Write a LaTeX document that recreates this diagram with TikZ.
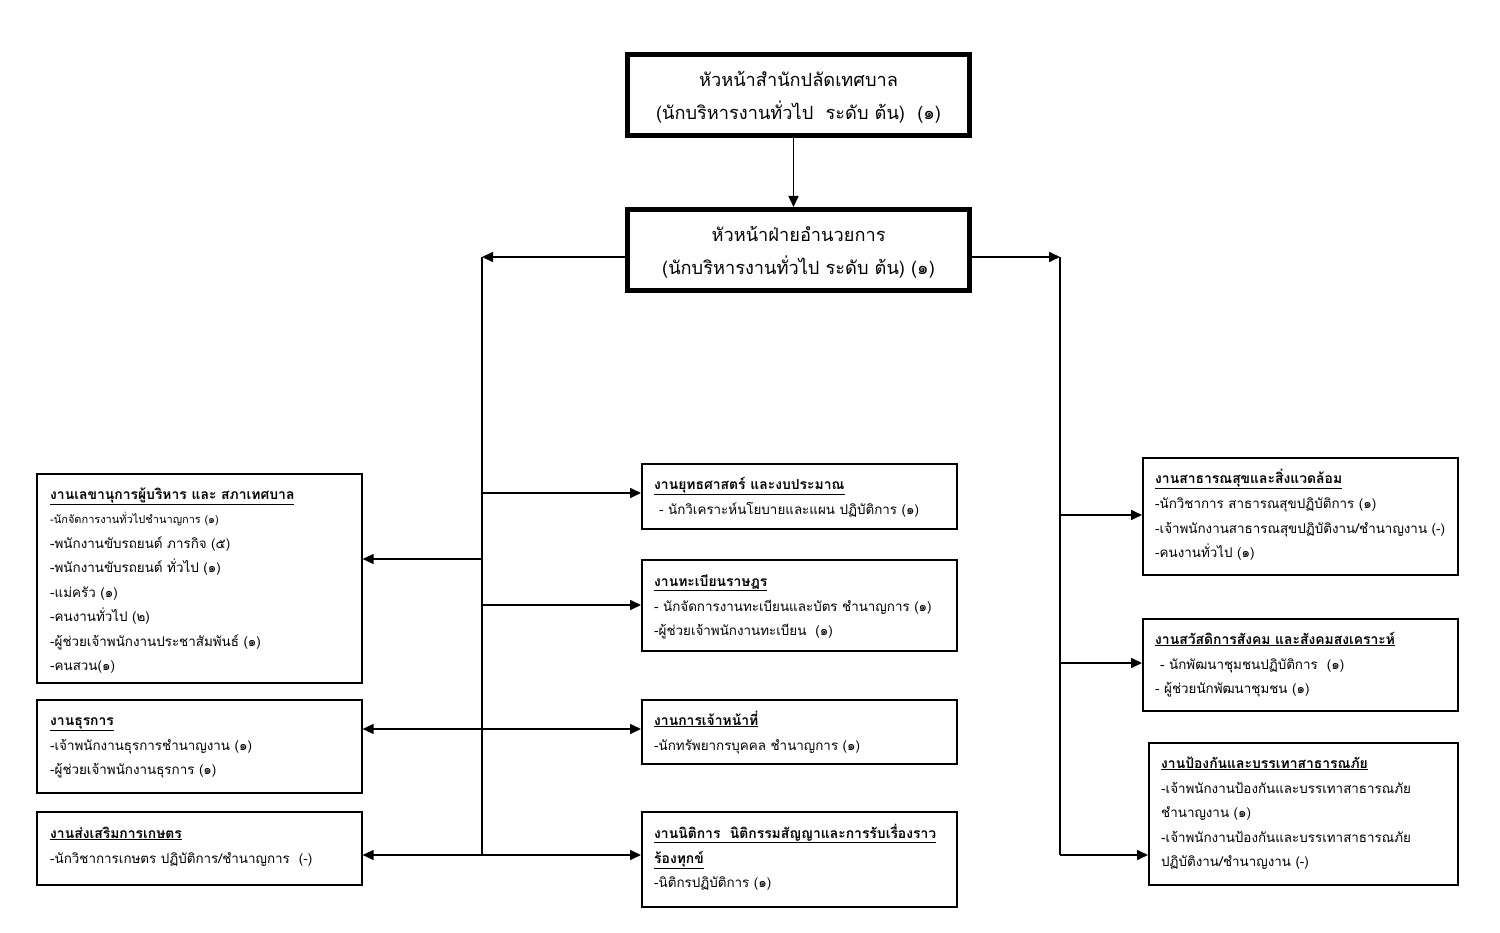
\documentclass[tikz,border=0pt]{standalone}
\usepackage{fontspec}
\newfontfamily\thai[Script=Thai]{Loma}
\usetikzlibrary{arrows.meta}
\begin{document}
\begin{tikzpicture}[x=1pt,y=-1pt,
  box/.style={draw, line width=1.6pt, rectangle, inner sep=0pt, anchor=north west},
  headbox/.style={draw, line width=5pt, rectangle, inner sep=0pt, minimum width=342pt, minimum height=81pt},
  txt/.style={font=\thai\fontsize{13.4}{16}\selectfont, inner sep=0pt, anchor=base west},
  small/.style={font=\thai\fontsize{11}{13}\selectfont, inner sep=0pt, anchor=base west},
  hd/.style={font=\thai\bfseries\fontsize{13.9}{16}\selectfont, inner sep=0pt, anchor=base west},
  big/.style={font=\thai\fontsize{18.2}{22}\selectfont, inner sep=0pt, anchor=base},
  conn/.style={line width=1.6pt},
  arr/.style={line width=1.6pt, -{Triangle[length=11pt,width=10pt]}}]
\useasboundingbox[fill=white] (0,0) rectangle (1500,933);

% head boxes
\node[headbox] (hb1) at (798.5,95) {};
\node[big] (hb1a) at (798.5,87) {หัวหน้าสำนักปลัดเทศบาล};
\node[big] (hb1b) at (798.5,120) {(นักบริหารงานทั่วไป\ \ ระดับ ต้น)\ \ (๑)};
\node[headbox] (hb2) at (798.5,250) {};
\node[big] (hb2a) at (798.5,242) {หัวหน้าฝ่ายอำนวยการ};
\node[big] (hb2b) at (798.5,275) {(นักบริหารงานทั่วไป ระดับ ต้น) (๑)};

% left boxes
\node[box, minimum width=325pt, minimum height=209pt] (lb1) at (36,473) {};
\node[hd] (lb1h) at (50,499) {\underline{งานเลขานุการผู้บริหาร และ สภาเทศบาล}};
\node[small] (lb1a) at (50,523) {-นักจัดการงานทั่วไปชำนาญการ (๑)};
\node[txt] (lb1b) at (50,548) {-พนักงานขับรถยนต์ ภารกิจ (๕)};
\node[txt] (lb1c) at (50,572) {-พนักงานขับรถยนต์ ทั่วไป (๑)};
\node[txt] (lb1d) at (50,597) {-แม่ครัว (๑)};
\node[txt] (lb1e) at (50,621) {-คนงานทั่วไป (๒)};
\node[txt] (lb1f) at (50,646) {-ผู้ช่วยเจ้าพนักงานประชาสัมพันธ์ (๑)};
\node[txt] (lb1g) at (50,670) {-คนสวน(๑)};

\node[box, minimum width=325pt, minimum height=93pt] (lb2) at (36,699) {};
\node[hd] (lb2h) at (50,725) {\underline{งานธุรการ}};
\node[txt] (lb2a) at (50,750) {-เจ้าพนักงานธุรการชำนาญงาน (๑)};
\node[txt] (lb2b) at (50,774) {-ผู้ช่วยเจ้าพนักงานธุรการ (๑)};

\node[box, minimum width=325pt, minimum height=73pt] (lb3) at (36,811) {};
\node[hd] (lb3h) at (50,838) {\underline{งานส่งเสริมการเกษตร}};
\node[txt] (lb3a) at (50,863) {-นักวิชาการเกษตร ปฏิบัติการ/ชำนาญการ\ \ (-)};

% middle boxes
\node[box, minimum width=315pt, minimum height=65pt] (mb1) at (641,463) {};
\node[hd] (mb1h) at (654,489) {\underline{งานยุทธศาสตร์ และงบประมาณ}};
\node[txt] (mb1a) at (659,514) {- นักวิเคราะห์นโยบายและแผน ปฏิบัติการ (๑)};

\node[box, minimum width=315pt, minimum height=91pt] (mb2) at (641,559) {};
\node[hd] (mb2h) at (654,586) {\underline{งานทะเบียนราษฎร}};
\node[txt] (mb2a) at (654,611) {- นักจัดการงานทะเบียนและบัตร ชำนาญการ (๑)};
\node[txt] (mb2b) at (654,635) {-ผู้ช่วยเจ้าพนักงานทะเบียน\ \ (๑)};

\node[box, minimum width=315pt, minimum height=64pt] (mb3) at (641,699) {};
\node[hd] (mb3h) at (654,725) {\underline{งานการเจ้าหน้าที่}};
\node[txt] (mb3a) at (654,750) {-นักทรัพยากรบุคคล ชำนาญการ (๑)};

\node[box, minimum width=315pt, minimum height=95pt] (mb4) at (641,811) {};
\node[hd] (mb4h) at (654,838) {\underline{งานนิติการ\ \ นิติกรรมสัญญาและการรับเรื่องราว}};
\node[hd] (mb4i) at (654,863) {\underline{ร้องทุกข์}};
\node[txt] (mb4a) at (654,887) {-นิติกรปฏิบัติการ (๑)};

% right boxes
\node[box, minimum width=315pt, minimum height=117pt] (rb1) at (1142,457) {};
\node[hd] (rb1h) at (1155,483) {\underline{งานสาธารณสุขและสิ่งแวดล้อม}};
\node[txt] (rb1a) at (1155,508) {-นักวิชาการ สาธารณสุขปฏิบัติการ (๑)};
\node[txt] (rb1b) at (1155,533) {-เจ้าพนักงานสาธารณสุขปฏิบัติงาน/ชำนาญงาน (-)};
\node[txt] (rb1c) at (1155,557) {-คนงานทั่วไป (๑)};

\node[box, minimum width=315pt, minimum height=92pt] (rb2) at (1142,618) {};
\node[hd] (rb2h) at (1155,644) {\underline{งานสวัสดิการสังคม และสังคมสงเคราะห์}};
\node[txt] (rb2a) at (1160,669) {- นักพัฒนาชุมชนปฏิบัติการ\ \ (๑)};
\node[txt] (rb2b) at (1155,693) {- ผู้ช่วยนักพัฒนาชุมชน (๑)};

\node[box, minimum width=309pt, minimum height=142pt] (rb3) at (1148,742) {};
\node[hd] (rb3h) at (1161,768) {\underline{งานป้องกันและบรรเทาสาธารณภัย}};
\node[txt] (rb3a) at (1161,793) {-เจ้าพนักงานป้องกันและบรรเทาสาธารณภัย};
\node[txt] (rb3b) at (1161,817) {ชำนาญงาน (๑)};
\node[txt] (rb3c) at (1161,842) {-เจ้าพนักงานป้องกันและบรรเทาสาธารณภัย};
\node[txt] (rb3d) at (1161,866) {ปฏิบัติงาน/ชำนาญงาน (-)};

% trunk coordinates
\coordinate (L0) at (482,257);
\coordinate (L1) at (482,493);
\coordinate (L2) at (482,559);
\coordinate (L3) at (482,605);
\coordinate (L4) at (482,729);
\coordinate (L5) at (482,855);
\coordinate (R0) at (1060,257);
\coordinate (R1) at (1060,515);
\coordinate (R2) at (1060,663);
\coordinate (R3) at (1060,855);

% connectors
\draw[arr] ([xshift=-5pt]hb1.south) -- ([xshift=-5pt]hb2.north);
\draw[arr] (hb2.west |- L0) -- (L0);
\draw[conn] (L0) -- (L5);
\draw[arr] (L1) -- (mb1.west |- L1);
\draw[arr] (L2) -- (lb1.east |- L2);
\draw[arr] (L3) -- (mb2.west |- L3);
\draw[arr] (L4) -- (lb2.east |- L4);
\draw[arr] (L4) -- (mb3.west |- L4);
\draw[arr] (L5) -- (lb3.east |- L5);
\draw[arr] (L5) -- (mb4.west |- L5);
\draw[arr] (hb2.east |- R0) -- (R0);
\draw[conn] (R0) -- (R3);
\draw[arr] (R1) -- (rb1.west |- R1);
\draw[arr] (R2) -- (rb2.west |- R2);
\draw[arr] (R3) -- (rb3.west |- R3);
\end{tikzpicture}
\end{document}
